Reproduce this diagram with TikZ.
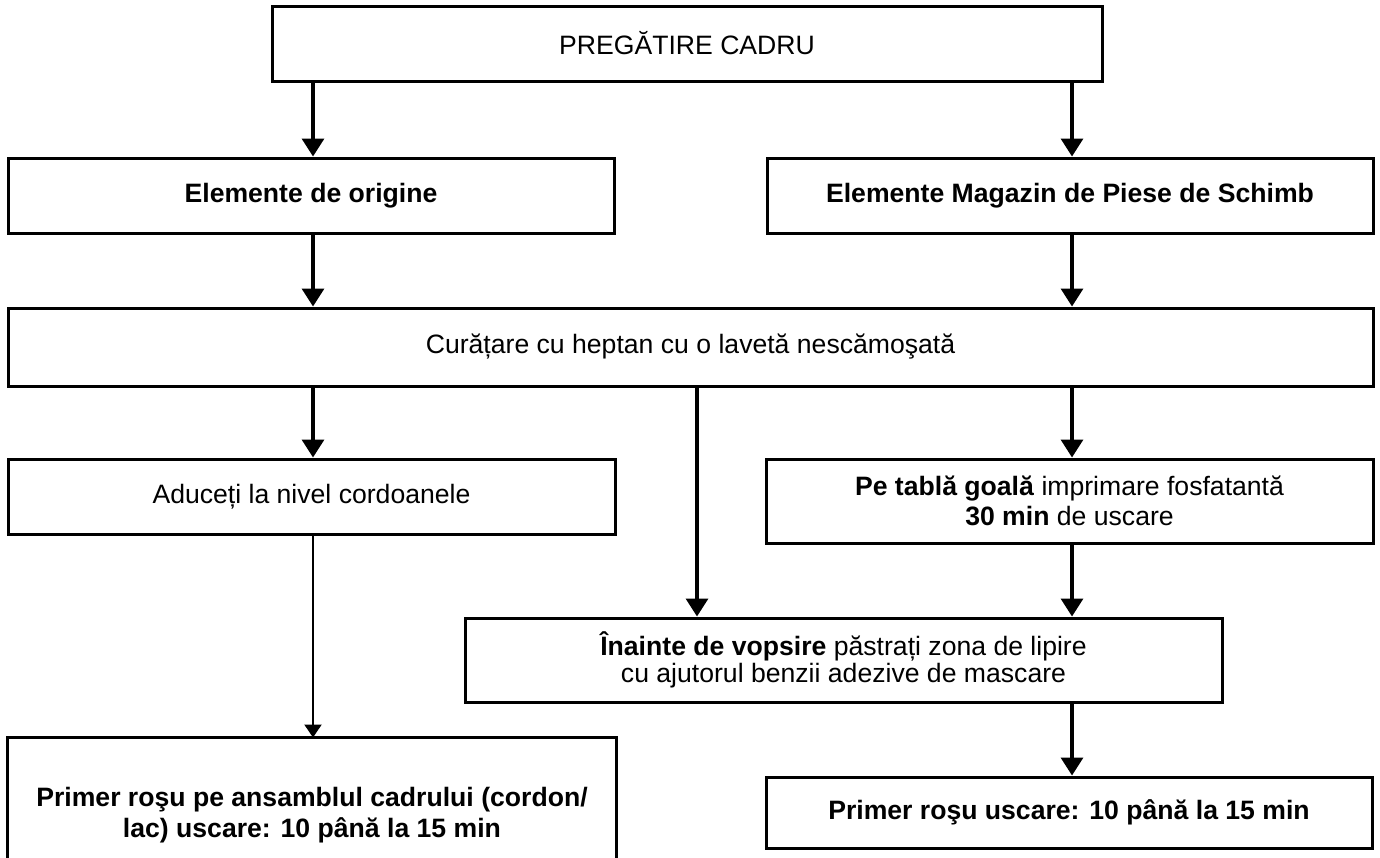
\documentclass[tikz,border=0pt]{standalone}
\usepackage{fontspec}
\setmainfont{Liberation Sans}
\usetikzlibrary{arrows.meta}
\begin{document}
\begin{tikzpicture}[x=0.5pt,y=-0.5pt,
  box/.style={draw,line width=1.5pt,inner sep=0pt,align=center,font=\fontsize{13.3}{15.2}\selectfont},
  arr/.style={line width=1.7pt,-{Triangle[width=11pt,length=9pt]}},
  arrthin/.style={line width=1.1pt,-{Triangle[width=8.5pt,length=6.5pt]}}]
\path[use as bounding box,clip] (0,0) rectangle (1380,857);
\coordinate (xl) at (313,0);
\coordinate (xm) at (697,0);
\coordinate (xr) at (1072,0);
\node[box,minimum width=415pt,minimum height=37.5pt] (top) at (687,43.5) {PREGĂTIRE CADRU};
\node[box,minimum width=303pt,minimum height=37.5pt] (orig) at (311,195.5) {\bfseries Elemente de origine};
\node[box,minimum width=303pt,minimum height=37.5pt] (mag) at (1070,195.5) {\bfseries Elemente Magazin de Piese de Schimb};
\node[box,minimum width=682.5pt,minimum height=39pt] (cur) at (690.5,347) {Curățare cu heptan cu o lavetă nescămoşată};
\node[box,minimum width=303.5pt,minimum height=37.5pt] (adu) at (311.5,496.5) {Aduceți la nivel cordoanele};
\node[box,minimum width=303.5pt,minimum height=42pt] (pe) at (1069.5,501) {\textbf{Pe tablă goală} imprimare fosfatantă\\\textbf{30 min} de uscare};
\node[box,minimum width=378.5pt,minimum height=42pt,font=\fontsize{13.3}{13.6}\selectfont] (ina) at (843.5,660) {\textbf{Înainte de vopsire} păstrați zona de lipire\\cu ajutorul benzii adezive de mascare};
\node[box,draw=none,minimum width=303pt,minimum height=76pt] (prl) at (312,815) {\bfseries Primer roşu pe ansamblul cadrului (cordon/\\\bfseries lac) uscare: 10 până la 15 min};
\draw[line width=1.5pt] ([yshift=-20pt]prl.south west) -- (prl.north west) -- (prl.north east) -- ([yshift=-20pt]prl.south east);
\node[box,minimum width=303pt,minimum height=35.5pt] (prr) at (1069,812.5) {\bfseries Primer roşu uscare: 10 până la 15 min};
\draw[arr] (top.south -| xl) -- (orig.north -| xl);
\draw[arr] (top.south -| xr) -- (mag.north -| xr);
\draw[arr] (orig.south -| xl) -- (cur.north -| xl);
\draw[arr] (mag.south -| xr) -- (cur.north -| xr);
\draw[arr] (cur.south -| xl) -- (adu.north -| xl);
\draw[arr] (cur.south -| xr) -- (pe.north -| xr);
\draw[arr] (cur.south -| xm) -- (ina.north -| xm);
\draw[arr] (pe.south -| xr) -- (ina.north -| xr);
\draw[arrthin] (adu.south -| xl) -- (prl.north -| xl);
\draw[arr] (ina.south -| xr) -- (prr.north -| xr);
\end{tikzpicture}
\end{document}
